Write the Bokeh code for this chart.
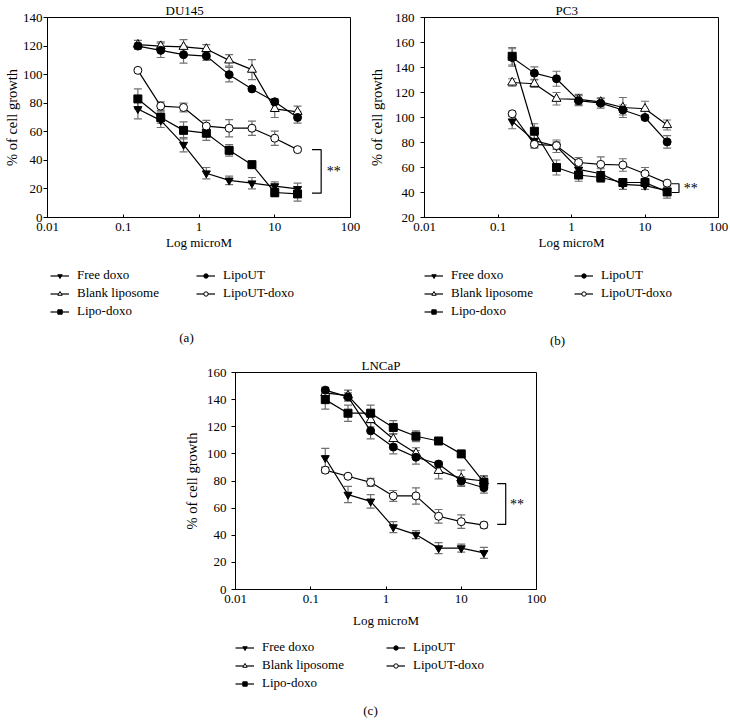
from bokeh.plotting import figure
from bokeh.models import (ColumnDataSource, Range1d, FixedTicker, Whisker, TeeHead,
                          Legend, LegendItem, Label, Spacer, CustomJSTickFormatter)
from bokeh.layouts import row, column
from bokeh.embed import file_html
from bokeh.resources import INLINE
from bokeh.core.properties import value

# ---------------- data ----------------
conc = [0.156, 0.3125, 0.625, 1.25, 2.5, 5, 10, 20]
series_names = ["Free doxo", "Blank liposome", "Lipo-doxo", "LipoUT", "LipoUT-doxo"]
x_tick_vals = [0.01, 0.1, 1, 10, 100]
x_tick_labels = ["0.01", "0.1", "1", "10", "100"]

du145_free = [76, 68, 51, 31, 26, 24, 22, 20]
du145_free_err = [7, 5, 5, 4, 3, 4, 3, 4]
du145_blank = [121, 120, 119.5, 118, 110, 103.5, 76, 74]
du145_blank_err = [3, 3, 5, 3, 4, 7, 6, 4]
du145_lipodoxo = [83, 70, 61, 59, 47, 37, 17.5, 16.5]
du145_lipodoxo_err = [7, 4, 6, 5, 4, 1, 3, 5]
du145_lipout = [120, 117, 114, 113, 100, 90, 81, 70]
du145_lipout_err = [2, 5, 6, 3, 5, 1, 2, 4]
du145_lipoutdoxo = [103, 78, 77, 64, 62.5, 62.5, 55.5, 47.5]
du145_lipoutdoxo_err = [1, 3, 3, 4, 6, 5, 5, 1]
du145_yticks = [0, 20, 40, 60, 80, 100, 120, 140]

pc3_free = [97, 81.5, 77, 58.5, 55, 46.5, 45.5, 41.5]
pc3_free_err = [6, 6, 5, 4, 4, 4, 3, 4]
pc3_blank = [128, 127, 115, 114.5, 112.5, 108, 107, 94]
pc3_blank_err = [3, 3, 5, 4, 3, 8, 6, 4]
pc3_lipodoxo = [149, 89, 60, 54, 52, 48, 48, 40.5]
pc3_lipodoxo_err = [7, 6, 6, 5, 4, 2, 3, 5]
pc3_lipout = [148, 135.5, 131, 113.5, 111.5, 106, 100, 80.5]
pc3_lipout_err = [7, 5, 6, 4, 4, 4, 2, 5]
pc3_lipoutdoxo = [103, 78.5, 77.5, 64, 62.5, 62, 55, 47.5]
pc3_lipoutdoxo_err = [2, 2, 3, 4, 6, 5, 5, 1]
pc3_yticks = [20, 40, 60, 80, 100, 120, 140, 160, 180]

lncap_free = [97, 70, 65, 46, 40.5, 30.5, 30.5, 27]
lncap_free_err = [7, 6, 5, 4, 3, 4, 3, 4]
lncap_blank = [145, 143, 125, 111, 100.5, 87.5, 82, 80]
lncap_blank_err = [3, 4, 5, 4, 4, 6, 6, 4]
lncap_lipodoxo = [140, 130, 130, 119.5, 113, 109.5, 100, 79]
lncap_lipodoxo_err = [7, 6, 6, 5, 4, 1, 2, 4]
lncap_lipout = [147, 142, 117, 105, 97.5, 92.5, 80, 75]
lncap_lipout_err = [2, 3, 6, 5, 5, 2, 3, 4]
lncap_lipoutdoxo = [88, 83.5, 79, 69, 69, 54, 50, 47.5]
lncap_lipoutdoxo_err = [2, 1, 3, 4, 6, 5, 5, 2]
lncap_yticks = [0, 20, 40, 60, 80, 100, 120, 140, 160]

# significance brackets: [x_left, x_vertical, y_top, y_bottom, x_text, y_text]
du145_bracket = [31, 41, 47.5, 17, 60, 32]
pc3_bracket = [23, 29, 47, 40, 42, 43]
lncap_bracket = [30, 39, 78, 48, 55, 63]
sig_label = "**"

# ---------------- style ----------------
FONT = "Liberation Serif"
GREY = "#707070"
markers = ["inverted_triangle", "triangle", "square", "circle", "circle"]
fills = ["black", "white", "black", "black", "white"]
msizes = [8, 9, 8, 8, 8]
leg_msizes = [5, 5, 4, 5, 5]

fmt_code = """
const i = vals.findIndex(v => Math.abs(Math.log10(v) - Math.log10(tick)) < 1e-6);
return i >= 0 ? labels[i] : '';
"""


def make_plot(title, series, errs, yticks, bracket, width, height,
              bl, br, bt, bb, ylab_standoff, ytick_standoff, title_off, xlab_standoff):
    p = figure(width=width, height=height, x_axis_type="log",
               x_range=Range1d(0.01, 100), y_range=Range1d(yticks[0], yticks[-1]),
               output_backend="svg", toolbar_location=None,
               min_border_left=bl, min_border_right=br,
               min_border_top=bt, min_border_bottom=bb)
    p.xgrid.visible = False
    p.ygrid.visible = False
    p.outline_line_color = "black"
    p.outline_line_width = 1

    p.title.text = title
    p.title.text_font = FONT
    p.title.text_font_size = "13px"
    p.title.text_font_style = "normal"
    p.title.text_color = "black"
    p.title.align = "left"
    p.title.offset = title_off
    p.title.standoff = 0

    p.xaxis.ticker = FixedTicker(ticks=x_tick_vals, minor_ticks=[])
    p.xaxis.formatter = CustomJSTickFormatter(args=dict(vals=x_tick_vals, labels=x_tick_labels),
                                              code=fmt_code)
    p.yaxis.ticker = FixedTicker(ticks=yticks, minor_ticks=[])
    for ax in (p.xaxis[0], p.yaxis[0]):
        ax.axis_line_color = "black"
        ax.major_tick_line_color = "black"
        ax.minor_tick_line_color = None
        ax.major_label_text_font = FONT
        ax.major_label_text_font_size = "13px"
        ax.major_label_text_color = "black"
        ax.axis_label_text_font = FONT
        ax.axis_label_text_font_style = "normal"
        ax.axis_label_text_color = "black"
    p.xaxis.major_tick_in = 3
    p.xaxis.major_tick_out = 0
    p.xaxis.major_label_standoff = 5
    p.xaxis.axis_label = "Log microM"
    p.xaxis.axis_label_text_font_size = "13px"
    p.xaxis.axis_label_standoff = xlab_standoff
    p.yaxis.major_tick_in = 0
    p.yaxis.major_tick_out = 4
    p.yaxis.major_label_standoff = ytick_standoff
    p.yaxis.axis_label = "% of cell growth"
    p.yaxis.axis_label_text_font_size = "14.5px"
    p.yaxis.axis_label_standoff = ylab_standoff

    srcs = []
    for k, name in enumerate(series_names):
        ys = series[k]
        es = errs[k]
        src = ColumnDataSource(dict(x=conc, y=ys,
                                    upper=[a + b for a, b in zip(ys, es)],
                                    lower=[a - b for a, b in zip(ys, es)]))
        w = Whisker(source=src, base="x", upper="upper", lower="lower",
                    line_color=GREY, line_width=1.2,
                    upper_head=TeeHead(size=8, line_color=GREY, line_width=1.2),
                    lower_head=TeeHead(size=8, line_color=GREY, line_width=1.2))
        p.add_layout(w)
        p.line("x", "y", source=src, line_color="black", line_width=1.2)
        srcs.append(src)
    for k, name in enumerate(series_names):
        p.scatter("x", "y", source=srcs[k], marker=markers[k], size=msizes[k],
                  fill_color=fills[k], line_color="black", line_width=1)

    xl, xv, yt, yb, xtx, yty = bracket
    p.line(x=[xl, xv, xv, xl], y=[yt, yt, yb, yb], line_color="black", line_width=1.2)
    p.text(x=[xtx], y=[yty], text=[sig_label], text_font=value(FONT),
           text_font_size=value("14px"), text_align="center", text_baseline="middle",
           text_color="#000000")
    return p


def make_legend(caption, width, height, col1_x, col2_x, top, cap_x, cap_y):
    # frame of this figure is aligned (by the column layout) with the plot frame above
    q = figure(width=width, height=height, x_range=Range1d(0, 1), y_range=Range1d(0, 1),
               output_backend="svg", toolbar_location=None,
               x_axis_location=None, y_axis_location=None, min_border=0)
    q.xgrid.visible = False
    q.ygrid.visible = False
    q.outline_line_color = None
    items = []
    for k, name in enumerate(series_names):
        # one sample point placed outside the visible range: only the legend shows it
        lr = q.line(x=[5, 6], y=[5, 5], line_color="black", line_width=1.2)
        sr = q.scatter(x=[5], y=[5], marker=markers[k], size=leg_msizes[k],
                       fill_color=fills[k], line_color="black", line_width=1)
        items.append(LegendItem(label=name, renderers=[lr, sr]))
    leg_kw = dict(orientation="vertical", background_fill_alpha=0, border_line_color=None,
                  padding=0, margin=0, spacing=2, label_height=16, glyph_height=11,
                  glyph_width=19, label_standoff=8, label_text_font=FONT,
                  label_text_font_size="13px", label_text_color="black")
    h3 = 3 * 16 + 2 * 2
    h2 = 2 * 16 + 2
    q.add_layout(Legend(items=items[:3], location=(col1_x, height - top - h3), **leg_kw))
    q.add_layout(Legend(items=items[3:], location=(col2_x, height - top - h2), **leg_kw))
    q.add_layout(Label(x=cap_x, y=height - cap_y, x_units="screen", y_units="screen",
                       text=caption, text_font=FONT, text_font_size="13px",
                       text_align="center", text_baseline="middle", text_color="black"))
    return q


pa = make_plot("DU145",
               [du145_free, du145_blank, du145_lipodoxo, du145_lipout, du145_lipoutdoxo],
               [du145_free_err, du145_blank_err, du145_lipodoxo_err, du145_lipout_err,
                du145_lipoutdoxo_err],
               du145_yticks, du145_bracket, width=365, height=258,
               bl=43, br=15, bt=14, bb=41, ylab_standoff=0, ytick_standoff=1, title_off=118,
               xlab_standoff=1)
la = make_legend("(a)", 365, 97, col1_x=3, col2_x=149, top=9, cap_x=139, cap_y=79)

pb = make_plot("PC3",
               [pc3_free, pc3_blank, pc3_lipodoxo, pc3_lipout, pc3_lipoutdoxo],
               [pc3_free_err, pc3_blank_err, pc3_lipodoxo_err, pc3_lipout_err,
                pc3_lipoutdoxo_err],
               pc3_yticks, pc3_bracket, width=364, height=258,
               bl=55, br=11, bt=14, bb=41, ylab_standoff=7, ytick_standoff=6, title_off=131,
               xlab_standoff=1)
lb = make_legend("(b)", 364, 97, col1_x=0, col2_x=150, top=9, cap_x=133, cap_y=82)

pc = make_plot("LNCaP",
               [lncap_free, lncap_blank, lncap_lipodoxo, lncap_lipout, lncap_lipoutdoxo],
               [lncap_free_err, lncap_blank_err, lncap_lipodoxo_err, lncap_lipout_err,
                lncap_lipoutdoxo_err],
               lncap_yticks, lncap_bracket, width=370, height=279,
               bl=52, br=14, bt=15, bb=45, ylab_standoff=4, ytick_standoff=5, title_off=126,
               xlab_standoff=7)
lc = make_legend("(c)", 370, 91, col1_x=0, col2_x=151, top=5, cap_x=135, cap_y=76)

layout = column(row(column(pa, la), column(pb, lb)),
                row(Spacer(width=180, height=370), column(pc, lc)))

open("out.html", "w").write(file_html(layout, INLINE))
